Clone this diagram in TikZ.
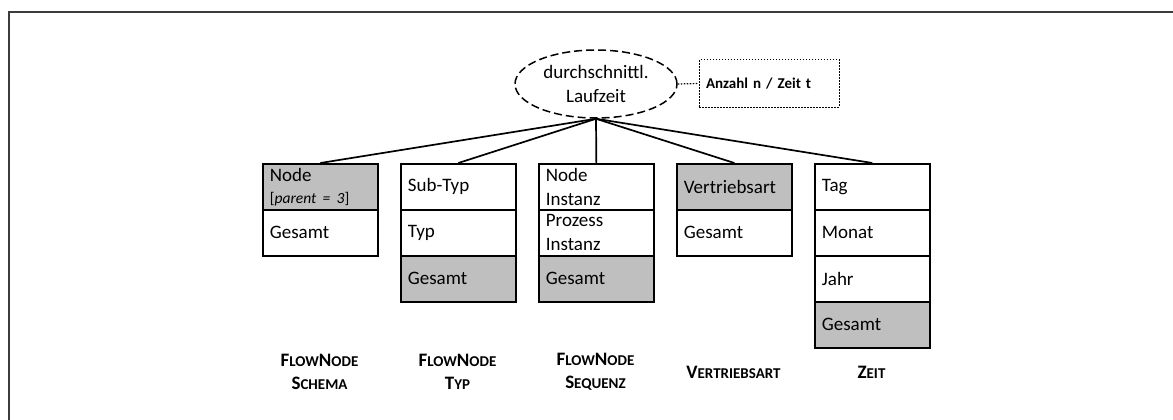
\documentclass[tikz,border=0pt]{standalone}
\usepackage{fontspec}
\setmainfont{Carlito}
\usetikzlibrary{shapes.geometric}
\definecolor{cellgray}{RGB}{191,191,191}
\definecolor{framegray}{RGB}{60,60,60}
\newcommand{\scx}[1]{{\fontsize{15}{18}\selectfont #1}}
\begin{document}
\begin{tikzpicture}[x=1pt,y=-1pt,
 cell/.style={draw, line width=1.7pt, anchor=north west, minimum height=46pt, text width=101pt, inner xsep=7pt, inner ysep=0pt, align=left, font=\fontsize{19}{24}\selectfont},
 shaded/.style={cell, fill=cellgray},
 conn/.style={line width=1.7pt},
 dimlabel/.style={font=\fontsize{19}{23.5}\selectfont\bfseries, align=center, inner sep=0pt},
 measure/.style={ellipse, draw, dash pattern=on 8pt off 4pt, line width=1.5pt, minimum width=162pt, minimum height=68pt, inner sep=0pt, align=center, font=\fontsize{19}{24}\selectfont},
 note/.style={draw, dash pattern=on 1.5pt off 1.5pt, line width=1pt, minimum height=47pt, text width=126pt, inner xsep=7pt, align=left, font=\fontsize{15}{18}\selectfont\bfseries}
]
\useasboundingbox (0,0) rectangle (1173,420);
\fill[white] (0,0) rectangle (1173,420);
% frame
\draw[framegray, line width=1.2pt] (1173,12) -- (9,12) -- (9,420);

% root measure
\node[measure] (root) at (596,84) {durchschnittl.\\Laufzeit};
\node[note] (note) at (769,83.5) {Anzahl n / Zeit t};
\draw[line width=1.2pt, dash pattern=on 1.5pt off 1.5pt] (root.east) -- (note.west);

% box 1
\node[shaded] (a1) at (262,163) {Node\\[-2pt]{\fontsize{15.5}{20}\selectfont[\textit{parent = 3}]}};
\node[cell] (a2) at (262,209) {Gesamt};
% box 2
\node[cell] (b1) at (400,163) {Sub-Typ};
\node[cell] (b2) at (400,209) {Typ};
\node[shaded] (b3) at (400,255) {Gesamt};
% box 3
\node[cell] (c1) at (538,163) {Node\\Instanz};
\node[cell] (c2) at (538,209) {Prozess\\Instanz};
\node[shaded] (c3) at (538,255) {Gesamt};
% box 4
\node[shaded] (d1) at (676,163) {Vertriebsart};
\node[cell] (d2) at (676,209) {Gesamt};
% box 5
\node[cell] (e1) at (814,163) {Tag};
\node[cell] (e2) at (814,209) {Monat};
\node[cell] (e3) at (814,255) {Jahr};
\node[shaded] (e4) at (814,301) {Gesamt};

% connectors
\foreach \t in {a1,b1,c1,d1,e1}
  \draw[conn] (root.south) -- (\t.north);

% dimension labels
\node[dimlabel] (la) at (319.5,372) {F\scx{LOW}N\scx{ODE}\\S\scx{CHEMA}};
\node[dimlabel] (lb) at (457.5,372) {F\scx{LOW}N\scx{ODE}\\T\scx{YP}};
\node[dimlabel] (lc) at (595.5,372) {F\scx{LOW}N\scx{ODE}\\S\scx{EQUENZ}};
\node[dimlabel] (ld) at (733.5,372.5) {V\scx{ERTRIEBSART}};
\node[dimlabel] (le) at (871.5,372.5) {Z\scx{EIT}};
\end{tikzpicture}
\end{document}
